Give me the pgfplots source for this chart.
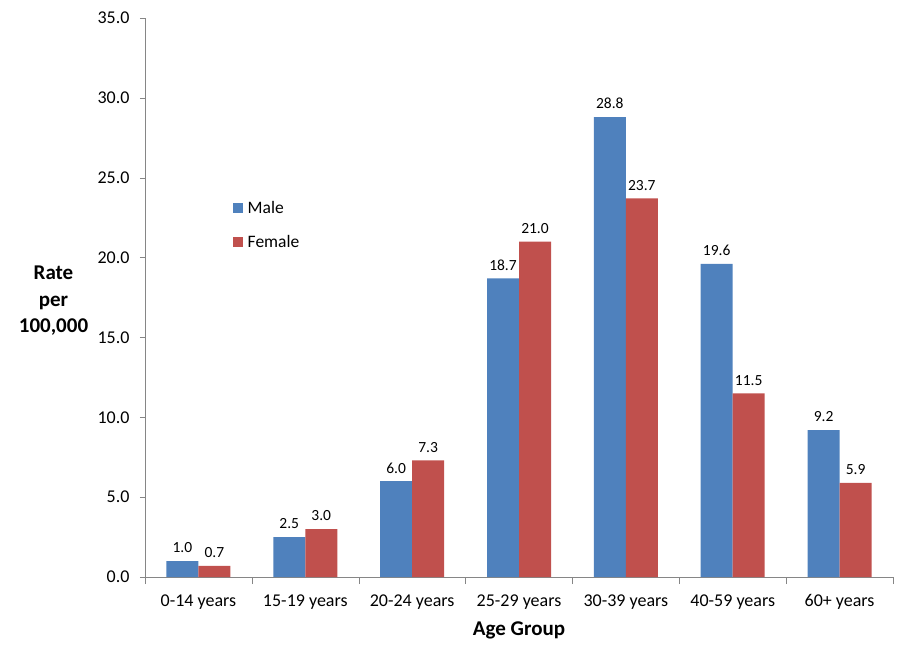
\documentclass[border=0pt]{standalone}
\usepackage{fontspec}
\setmainfont{Carlito}
\usepackage{pgfplots}
\pgfplotsset{compat=1.18}
\definecolor{male}{HTML}{4F81BD}
\definecolor{female}{HTML}{C0504D}
\definecolor{axisgray}{HTML}{868686}
\begin{document}
\begin{tikzpicture}
\useasboundingbox (-145pt,-82pt) rectangle (764pt,577pt);
\begin{axis}[
  at={(0,0)}, anchor=south west,
  scale only axis, width=748pt, height=559pt,
  ybar, bar width=32pt,
  ymin=0, ymax=35, ytick={0,5,...,35},
  xmin=-0.5, xmax=6.5,
  xtick={0,...,6},
  xticklabels={0-14 years,15-19 years,20-24 years,25-29 years,30-39 years,40-59 years,60+ years},
  minor xtick={-0.5,0.5,...,6.5},
  major x tick style={draw=none},
  minor tick length=7pt, major tick length=5pt,
  tick align=outside,
  axis lines*=left,
  axis line style={draw=axisgray,-},
  tick style={draw=axisgray},
  /pgf/number format/assume math mode=true,
  yticklabel style={font=\fontsize{18}{21}\selectfont, xshift=-7pt, /pgf/number format/fixed, /pgf/number format/fixed zerofill, /pgf/number format/precision=1},
  xticklabel style={font=\fontsize{18}{21}\selectfont, yshift=-9pt},
  nodes near coords,
  every node near coord/.append style={font=\fontsize{15.5}{18}\selectfont, yshift=4.5pt, /pgf/number format/fixed, /pgf/number format/fixed zerofill, /pgf/number format/precision=1, /pgf/number format/assume math mode=true},
  legend style={at={(axis description cs:0.117,0.675)}, anchor=north west, draw=none, fill=none,
    font=\fontsize{17.5}{20}\selectfont, row sep=19pt, inner sep=0pt, nodes={inner sep=1pt}},
  legend cell align=left,
  legend image code/.code={\fill[#1] (0pt,-5pt) rectangle (10pt,5pt); \path (14pt,0pt);},
  clip=false,
]
\addplot[draw=none, fill=male, bar shift=-16pt] coordinates {(0,1.0) (1,2.5) (2,6.0) (3,18.7) (4,28.8) (5,19.6) (6,9.2)};
\addplot[draw=none, fill=female, bar shift=16pt] coordinates {(0,0.7) (1,3.0) (2,7.3) (3,21.0) (4,23.7) (5,11.5) (6,5.9)};
\legend{Male,Female}
\end{axis}
\node[font=\bfseries\fontsize{21}{26.5}\selectfont, align=center] at (-91.5pt,276pt) {Rate\\per\\100,000};
\node[font=\bfseries\fontsize{21}{24}\selectfont] at (374pt,-53pt) {Age Group};
\end{tikzpicture}
\end{document}
